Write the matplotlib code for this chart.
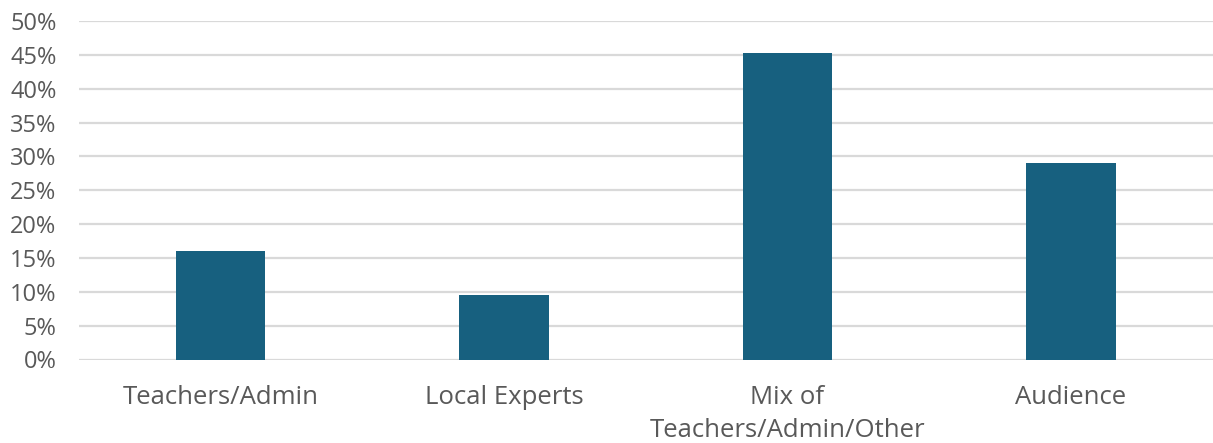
import matplotlib.pyplot as plt
from matplotlib.ticker import PercentFormatter

categories = ["Teachers/Admin", "Local Experts", "Mix of\nTeachers/Admin/Other", "Audience"]
values = [16.1, 9.6, 45.2, 29.0]
yticks = [0, 5, 10, 15, 20, 25, 30, 35, 40, 45, 50]

plt.rcParams['font.family'] = ['Open Sans', 'DejaVu Sans']

fig = plt.figure(figsize=(12.13, 4.43), dpi=100)
ax = fig.add_axes([78.75 / 1213, 1 - 359.5 / 443, (1212.75 - 78.75) / 1213, (359.5 - 21) / 443])

x = range(len(categories))
ax.bar(x, values, width=0.314, color="#17607f", zorder=3)

ax.set_xlim(-0.5, len(categories) - 0.5)
ax.set_ylim(0, 50)
ax.set_yticks(yticks)
ax.yaxis.set_major_formatter(PercentFormatter(decimals=0))
ax.set_xticks(list(x))
ax.set_xticklabels(categories, fontsize=18.5, color="#595959", linespacing=1.42, va="top")
ax.tick_params(axis="y", labelsize=17, colors="#595959", length=0, pad=16)
ax.tick_params(axis="x", length=0, pad=18.5)
ax.grid(axis="y", color="#d9d9d9", linewidth=1.6, zorder=0)
for s in ax.spines.values():
    s.set_visible(False)

fig.savefig("out.png", dpi=100)
